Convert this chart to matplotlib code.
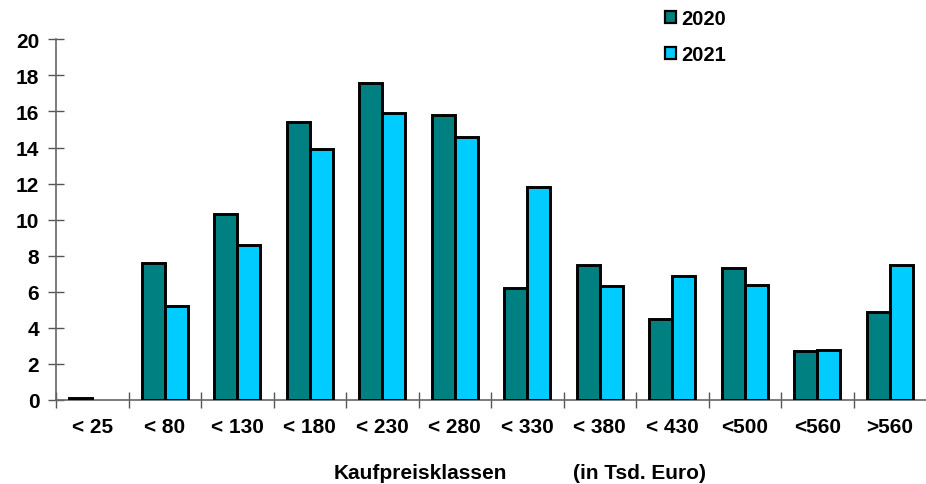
import numpy as np
import matplotlib
matplotlib.use("Agg")
import matplotlib.pyplot as plt
from matplotlib.patches import Patch

categories = ["< 25", "< 80", "< 130", "< 180", "< 230", "< 280", "< 330",
              "< 380", "< 430", "<500", "<560", ">560"]
values_2020 = [0.1, 7.6, 10.3, 15.4, 17.6, 15.8, 6.2, 7.5, 4.5, 7.3, 2.7, 4.9]
values_2021 = [0.0, 5.2, 8.6, 13.9, 15.9, 14.6, 11.8, 6.3, 6.9, 6.4, 2.8, 7.5]
series_names = ["2020", "2021"]
yticks = list(range(0, 21, 2))

plt.rcParams["font.family"] = ["Liberation Sans", "DejaVu Sans"]
plt.rcParams["font.weight"] = "bold"

col_2020 = "#008080"
col_2021 = "#00CCFF"

fig = plt.figure(figsize=(9.26, 4.85), dpi=100)
ax = fig.add_axes([56 / 926, 84 / 485, 870 / 926, 360.7 / 485])

x = np.arange(len(categories))
w = 0.32
b1 = ax.bar(x - w / 2, values_2020, w, color=col_2020, edgecolor="black", linewidth=2.1, zorder=3)
b2 = ax.bar(x + w / 2, values_2021, w, color=col_2021, edgecolor="black", linewidth=2.1, zorder=3)
for bars in (b1, b2):
    for r in bars:
        if r.get_height() == 0:
            r.set_visible(False)

ax.set_xlim(-0.5, len(categories) - 0.5)
ax.set_ylim(0, 20)
ax.set_yticks(yticks)
ax.set_yticklabels([str(t) for t in yticks], fontsize=15, fontweight="bold")

ax.set_xticks(x)
ax.set_xticklabels(categories, fontsize=15, fontweight="bold")
ax.set_xticks(np.arange(len(categories)) - 0.5, minor=True)
ax.tick_params(axis="x", which="major", length=0, pad=12)
ax.tick_params(axis="x", which="minor", direction="inout", length=12, color="#555555", width=1)
ax.tick_params(axis="y", direction="inout", length=12, color="#555555", width=1, pad=6)

for s in ("top", "right"):
    ax.spines[s].set_visible(False)
for s in ("left", "bottom"):
    ax.spines[s].set_color("#666666")
    ax.spines[s].set_linewidth(1.2)

fig.text(334 / 926, (485 - 479) / 485, "Kaufpreisklassen",
         ha="left", va="baseline", fontsize=15, fontweight="bold")
fig.text(573 / 926, (485 - 479) / 485, "(in Tsd. Euro)",
         ha="left", va="baseline", fontsize=15, fontweight="bold")

handles = [Patch(facecolor=col_2020, edgecolor="black", linewidth=1.6),
           Patch(facecolor=col_2021, edgecolor="black", linewidth=1.6)]
fig.legend(handles, series_names, loc="upper left", bbox_to_anchor=(661 / 926, 1 - 6 / 485),
           frameon=False, prop={"size": 14.5, "weight": "bold"},
           handlelength=0.55, handleheight=0.55, handletextpad=0.25, labelspacing=0.85,
           borderaxespad=0, borderpad=0.2)

fig.savefig("out.png", dpi=100)
